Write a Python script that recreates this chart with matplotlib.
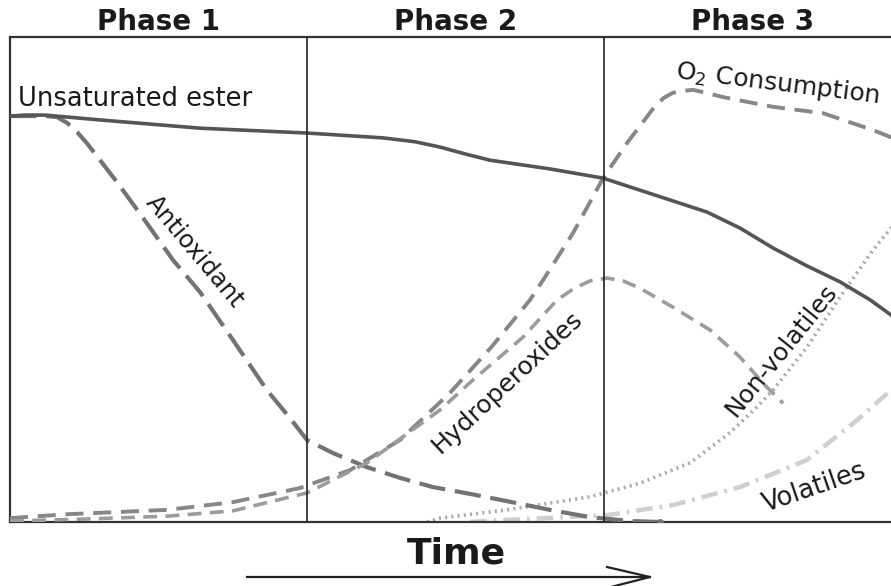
import matplotlib
matplotlib.use("Agg")
import matplotlib.pyplot as plt

plt.rcParams['font.family'] = ['DejaVu Sans']
plt.rcParams['lines.scale_dashes'] = False

W, H = 891, 586

# ---- data (x: time in phase units 0..3, y: relative amount 0..1) ----
phase_labels = ["Phase 1", "Phase 2", "Phase 3"]
phase_bounds = [1.0, 2.0]

ester_x = [0.0, 0.051, 0.118, 0.303, 0.640, 1.0, 1.256, 1.364, 1.448, 1.532, 1.616, 1.818, 1.997,
           2.172, 2.347, 2.458, 2.569, 2.677, 2.795, 2.896, 2.966, 3.0]
ester_y = [0.837, 0.839, 0.839, 0.829, 0.812, 0.802, 0.792, 0.784, 0.773, 0.759, 0.746, 0.728, 0.709,
           0.674, 0.639, 0.606, 0.565, 0.530, 0.495, 0.458, 0.427, 0.410]

antiox_x = [0.0, 0.118, 0.158, 0.192, 0.226, 0.259, 0.360, 0.448, 0.549, 0.640, 0.751, 0.865, 0.943, 1.0,
            1.088, 1.202, 1.313, 1.424, 1.549, 1.673, 1.818, 1.953, 2.088, 2.189]
antiox_y = [0.837, 0.837, 0.835, 0.823, 0.804, 0.781, 0.701, 0.627, 0.540, 0.474, 0.375, 0.272, 0.214, 0.169,
            0.142, 0.113, 0.091, 0.072, 0.058, 0.043, 0.025, 0.010, 0.002, 0.0]

o2_x = [0.0, 0.192, 0.529, 0.751, 0.976, 1.145, 1.313, 1.481, 1.62, 1.751, 1.795, 1.896, 1.997, 2.077,
        2.165, 2.200, 2.232, 2.266, 2.300, 2.350, 2.401, 2.569, 2.737, 2.906, 3.0]
o2_y = [0.008, 0.016, 0.025, 0.041, 0.070, 0.107, 0.169, 0.266, 0.360, 0.458, 0.499, 0.596, 0.709, 0.781,
        0.852, 0.874, 0.885, 0.889, 0.891, 0.884, 0.876, 0.856, 0.843, 0.808, 0.785]

hydro_x = [0.0, 0.25, 0.529, 0.751, 1.0, 1.202, 1.448, 1.559, 1.727, 1.842, 1.90, 1.953, 2.01, 2.065,
           2.121, 2.232, 2.357, 2.458, 2.542, 2.603]
hydro_y = [0.002, 0.006, 0.012, 0.023, 0.060, 0.122, 0.231, 0.293, 0.381, 0.458, 0.482, 0.497, 0.503, 0.497,
           0.482, 0.443, 0.396, 0.340, 0.282, 0.245]

nonvol_x = [1.404, 1.448, 1.673, 1.953, 2.121, 2.290, 2.424, 2.515, 2.569, 2.684, 2.795, 2.906, 2.966, 3.0]
nonvol_y = [0.0, 0.008, 0.025, 0.052, 0.080, 0.122, 0.184, 0.237, 0.272, 0.361, 0.464, 0.561, 0.606, 0.635]

vol_x = [1.549, 1.593, 2.010, 2.232, 2.458, 2.684, 2.852, 2.966, 3.0]
vol_y = [0.0, 0.002, 0.014, 0.035, 0.072, 0.128, 0.210, 0.272, 0.295]

fig = plt.figure(figsize=(W / 100, H / 100), dpi=100)
ax = fig.add_axes([10 / W, (H - 522) / H, 891 / W, (522 - 37) / H])
ax.set_xlim(0, 3)
ax.set_ylim(0, 1)
ax.set_xticks([])
ax.set_yticks([])
for s in ['top', 'left', 'bottom', 'right']:
    ax.spines[s].set_color('#333333')
    ax.spines[s].set_linewidth(1.6)

for b in phase_bounds:
    ax.axvline(b, color='#222222', lw=1.2, zorder=5)

ax.plot(ester_x, ester_y, color='#555555', lw=2.6, solid_capstyle='round', solid_joinstyle='round', zorder=4)
ax.plot(antiox_x, antiox_y, color='#737373', lw=3.0, dashes=(19, 7), zorder=3)
ax.plot(antiox_x[-1:], antiox_y[-1:], 'o', color='#737373', ms=4, zorder=3)
ax.plot(o2_x, o2_y, color='#878787', lw=2.8, dashes=(13, 7), zorder=3)
ax.plot(hydro_x, hydro_y, color='#9c9c9c', lw=2.6, dashes=(10, 6), zorder=3)
ax.plot(nonvol_x, nonvol_y, color='#aaaaaa', lw=2.6, dashes=(1.5, 3), zorder=2)
ax.plot(vol_x, vol_y, color='#cfcfcf', lw=3.2, dashes=(12, 5, 2, 5), zorder=2)

tc = '#1a1a1a'

def px(x, y):
    return x / W, 1 - y / H

centers = [158.5, 455.5, 752.5]
for lab, cx in zip(phase_labels, centers):
    fig.text(*px(cx, 22), lab, ha='center', va='center', fontsize=20,
             fontweight='bold', color=tc)

fig.text(*px(135, 99), "Unsaturated ester", ha='center', va='center', fontsize=18.5, color=tc)
fig.text(*px(195, 252), "Antioxidant", ha='center', va='center', fontsize=17.5,
         rotation=-50, color=tc, rotation_mode='anchor')
fig.text(*px(507, 382), "Hydroperoxides", ha='center', va='center', fontsize=18,
         rotation=43, color=tc, rotation_mode='anchor')
fig.text(*px(781, 350), "Non-volatiles", ha='center', va='center', fontsize=18,
         rotation=51, color=tc, rotation_mode='anchor')
fig.text(*px(815, 488), "Volatiles", ha='center', va='center', fontsize=18.5,
         rotation=19, color=tc, rotation_mode='anchor')
fig.text(*px(778, 84), "O$_2$ Consumption", ha='center', va='center', fontsize=18,
         rotation=-7, color=tc, rotation_mode='anchor')

fig.text(*px(456, 553), "Time", ha='center', va='center', fontsize=26,
         fontweight='bold', color=tc)

# time arrow
fig.add_artist(plt.Line2D([247 / W, 650 / W], [1 - 577 / H, 1 - 577 / H], color='#222222', lw=1.6))
fig.add_artist(plt.Line2D([607 / W, 650 / W, 607 / W], [1 - 567 / H, 1 - 577 / H, 1 - 588 / H],
                          color='#222222', lw=1.6))

fig.savefig("out.png", dpi=100)
